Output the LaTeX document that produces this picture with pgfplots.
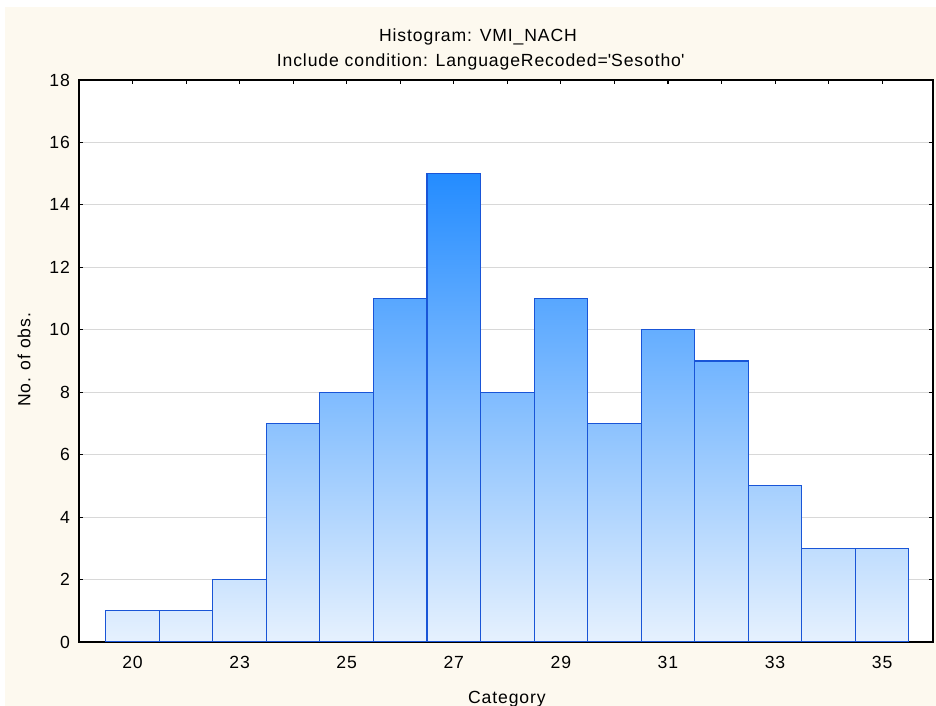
\documentclass[border=0pt]{standalone}
\usepackage{fontspec}
\setmainfont{Liberation Sans}[LetterSpace=5]
\usepackage{pgfplots}
\pgfplotsset{compat=1.18}

\definecolor{bgcream}{RGB}{253,249,239}
\definecolor{bartop}{RGB}{36,140,255}
\definecolor{barbottom}{RGB}{230,241,254}
\definecolor{baredge}{RGB}{25,85,215}
\definecolor{gridgray}{RGB}{216,216,216}

% bin counts, bars at positions 0..14
\pgfplotstableread{
pos count
0  1
1  1
2  2
3  7
4  8
5  11
6  15
7  8
8  11
9  7
10 10
11 9
12 5
13 3
14 3
}\histdata

\begin{document}
\begin{tikzpicture}[x=1pt,y=1pt]
  \useasboundingbox (0,0) rectangle (702,529.5);
  \fill[bgcream] (3.75,0) rectangle (702,524.25);
  \begin{axis}[
      at={(59.25pt,48pt)}, anchor=south west,
      scale only axis,
      width=640.5pt, height=421.5pt,
      xmin=-1.0, xmax=14.95,
      ymin=0, ymax=18,
      xtick={0,...,14},
      xticklabels={20,,23,,25,,27,,29,,31,,33,,35},
      ytick={0,2,...,18},
      ymajorgrids=true,
      grid style={gridgray, line width=0.8pt},
      axis background/.style={fill=white},
      axis line style={black, line width=0.9pt},
      tick style={black, line width=0.8pt},
      major tick length=2.8pt,
      tick align=inside,
      /pgf/number format/assume math mode=true,
      tick label style={font=\fontsize{13.2}{15}\selectfont},
      xticklabel style={yshift=-7.3pt},
      yticklabel style={xshift=-3.3pt},
      xlabel={Category},
      ylabel={No. of obs.},
      label style={font=\fontsize{13.2}{15}\selectfont},
      xlabel style={at={(axis description cs:0.501,-0.110)}, anchor=base},
      ylabel style={at={(axis description cs:-0.0644,0.502)}, anchor=center},
    ]
    \addplot[ybar, bar width=1, bar shift=0pt,
      draw=baredge, line width=0.8pt,
      shade, top color=bartop, bottom color=barbottom]
      table[x=pos, y=count] {\histdata};
  \end{axis}
  \node[anchor=base, font=\fontsize{13.2}{15}\selectfont] at (358.5,498.5) {Histogram: VMI\_NACH};
  \node[anchor=base, font=\fontsize{13.2}{15}\selectfont] at (360.5,479.5) {Include condition: LanguageRecoded=\textquotesingle Sesotho\textquotesingle};
\end{tikzpicture}
\end{document}
